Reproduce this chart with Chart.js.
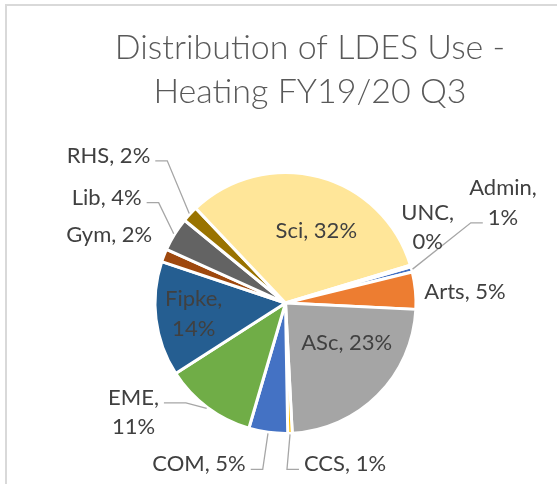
<!DOCTYPE html>
<html>
<head>
<meta charset="utf-8">
<title>Distribution of LDES Use - Heating FY19/20 Q3</title>
<script src="https://cdn.jsdelivr.net/npm/chart.js@4.4.1/dist/chart.umd.min.js"></script>
<style>
  html, body { margin: 0; padding: 0; background: #fff; overflow: hidden; }
  #frame { position: absolute; left: 5px; top: 4px; width: 600px; height: 520px;
           border-left: 2px solid #d9d9d9; border-top: 2px solid #d9d9d9; }
  #chart { position: absolute; left: 0; top: 0; }
</style>
</head>
<body>
<div id="frame"></div>
<canvas id="chart" width="557" height="484"></canvas>
<script>
const titleLines = ['Distribution of LDES Use -', 'Heating FY19/20 Q3'];
const categories = ['Admin', 'Arts', 'ASc', 'CCS', 'COM', 'EME', 'Fipke', 'Gym', 'Lib', 'RHS', 'Sci', 'UNC'];
const shares = [0.65, 4.6, 23.4, 0.55, 4.8, 11.4, 14.2, 1.6, 4.2, 2.0, 32.4, 0.2];
const sliceColors = ['#4472C4', '#ED7D31', '#A5A5A5', '#FFC000', '#4472C4', '#70AD47',
                     '#255E91', '#9E480E', '#636363', '#997300', '#FFE699', '#5B9BD5'];

// where each data label sits, relative to the pie centre
const labelSpots = {
  Admin: { dx: 217.5, dy: -100.9, wrap: true, leader: 'left' },
  UNC:   { dx: 142.1, dy: -76.3, wrap: true },
  Arts:  { dx: 179.5, dy: -12.5 },
  ASc:   { dx: 61.2, dy: 38.5 },
  CCS:   { dx: 59.5, dy: 160.3, leader: 'left' },
  COM:   { dx: -86.5, dy: 160.3, leader: 'right' },
  EME:   { dx: -152, dy: 108.6, wrap: true, leader: 'right', elbow: 22 },
  Fipke: { dx: -91.8, dy: 10, wrap: true },
  Gym:   { dx: -176.3, dy: -68.8 },
  Lib:   { dx: -178.8, dy: -106.3, leader: 'right' },
  RHS:   { dx: -177, dy: -148.2, leader: 'right' },
  Sci:   { dx: 30.8, dy: -73.5 }
};

const dataLabels = {
  id: 'dataLabels',
  afterDatasetsDraw(chart) {
    const ctx = chart.ctx;
    const arcs = chart.getDatasetMeta(0).data;
    const total = shares.reduce((a, b) => a + b, 0);
    ctx.save();
    ctx.font = '22px Lato';
    ctx.fillStyle = '#404040';
    ctx.strokeStyle = '#a6a6a6';
    ctx.lineWidth = 1.3;
    ctx.textAlign = 'center';
    ctx.textBaseline = 'alphabetic';
    arcs.forEach((arc, i) => {
      const cat = categories[i];
      const spot = labelSpots[cat];
      const pct = Math.round(shares[i] / total * 100);
      const lines = spot.wrap ? [cat + ',', pct + '%'] : [cat + ', ' + pct + '%'];
      const p = arc.getProps(['x', 'y', 'startAngle', 'endAngle', 'outerRadius'], true);
      const cx = p.x + spot.dx;
      const cy = p.y + spot.dy;
      const capY = lines.map((_, k) => cy + (k - (lines.length - 1) / 2) * 29.5);
      lines.forEach((t, k) => ctx.fillText(t, cx, capY[k] + 8));

      if (spot.leader) {
        const mid = (p.startAngle + p.endAngle) / 2;
        const ex = p.x + Math.cos(mid) * (p.outerRadius + 1);
        const ey = p.y + Math.sin(mid) * (p.outerRadius + 1);
        let k = 0;
        capY.forEach((v, j) => { if (Math.abs(v - ey) < Math.abs(capY[k] - ey)) k = j; });
        const w = ctx.measureText(lines[k]).width;
        const dir = spot.leader === 'right' ? 1 : -1;
        const sx = cx + dir * (w / 2 + 5);
        const bx = sx + dir * (spot.elbow || 12);
        const ly = capY[k] + 6;
        ctx.beginPath();
        ctx.moveTo(sx, ly);
        ctx.lineTo(bx, ly);
        ctx.lineTo(ex, ey);
        ctx.stroke();
      }
    });
    ctx.restore();
  }
};

const chartTitle = {
  id: 'chartTitle',
  afterDraw(chart) {
    const ctx = chart.ctx;
    ctx.save();
    ctx.font = '300 34px Lato';
    ctx.fillStyle = '#595959';
    ctx.textAlign = 'center';
    ctx.textBaseline = 'alphabetic';
    titleLines.forEach((t, i) => ctx.fillText(t, 310, 59 + i * 43.5));
    ctx.restore();
  }
};

new Chart(document.getElementById('chart'), {
  type: 'pie',
  data: {
    labels: categories,
    datasets: [{
      data: shares,
      backgroundColor: sliceColors,
      borderColor: '#ffffff',
      borderWidth: 3
    }]
  },
  options: {
    responsive: false,
    animation: false,
    rotation: 73.9,
    radius: 130.5,
    layout: { padding: { left: 20, right: 6, top: 130, bottom: 8 } },
    plugins: {
      legend: { display: false },
      tooltip: { enabled: false },
      title: { display: false }
    }
  },
  plugins: [dataLabels, chartTitle]
});
</script>
</body>
</html>
